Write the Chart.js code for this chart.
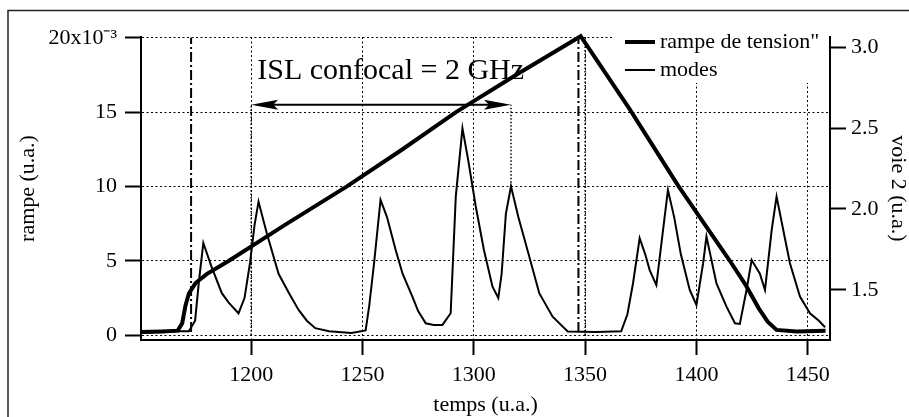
<!DOCTYPE html>
<html lang="fr">
<head>
<meta charset="UTF-8">
<title>Rampe de tension et modes</title>
<script src="https://cdn.jsdelivr.net/npm/chart.js"></script>
<style>
  html, body { margin: 0; padding: 0; background: #fff; }
  canvas { display: block; }
</style>
</head>
<body>
<canvas id="chart" width="909" height="417"></canvas>
<script>
// rampe de tension (x10^-3 u.a.) en fonction du temps
const rampT = [1150.5, 1160, 1167, 1169, 1170.5, 1172, 1175, 1180, 1190, 1215, 1243, 1268, 1292,
               1320, 1348, 1370, 1392, 1415, 1422, 1428, 1432, 1436, 1445, 1458];
const rampV = [0.2, 0.25, 0.3, 0.8, 2.0, 2.8, 3.5, 4.1, 5.0, 7.4, 10.0, 12.5, 15.0,
               17.6, 20.1, 15.2, 10.0, 5.0, 3.4, 1.8, 0.9, 0.35, 0.25, 0.3];

// voie 2 : modes de la cavité
const modesT = [1152, 1160, 1166, 1172, 1174.8, 1176.5, 1178.5, 1182, 1186.8, 1190, 1194.3, 1197, 1199.5,
                1201.5, 1203.3, 1207, 1212.3, 1217, 1221.3, 1225, 1228.8, 1235, 1245, 1251.4, 1253,
                1255.2, 1258.1, 1261, 1264.9, 1268, 1272.4, 1275, 1278.4, 1282, 1285.9, 1289.6, 1291.9,
                1294.9, 1297.5, 1300.9, 1304.5, 1308.4, 1311, 1312.5, 1314.4, 1316.7, 1320, 1324.9,
                1329.4, 1335.4, 1342.2, 1355, 1366.2, 1369, 1371.5, 1374.5, 1377, 1379, 1382, 1385,
                1387.2, 1390, 1393, 1397, 1400, 1403, 1404.5, 1409, 1413.5, 1417.3, 1419.5, 1422.5,
                1424.8, 1428.5, 1430.8, 1433.8, 1436, 1439, 1442, 1446.5, 1451, 1455, 1457.8];
const modesV = [1.235, 1.24, 1.245, 1.245, 1.31, 1.55, 1.79, 1.65, 1.48, 1.42, 1.356, 1.45, 1.67,
                1.9, 2.045, 1.85, 1.6, 1.48, 1.377, 1.31, 1.264, 1.245, 1.235, 1.25, 1.4,
                1.665, 2.056, 1.95, 1.747, 1.6, 1.459, 1.37, 1.294, 1.284, 1.284, 1.356, 2.076,
                2.498, 2.3, 2.014, 1.75, 1.52, 1.45, 1.6, 1.97, 2.14, 1.95, 1.706,
                1.48, 1.335, 1.243, 1.24, 1.245, 1.35, 1.54, 1.82, 1.72, 1.623, 1.53, 1.87,
                2.117, 1.95, 1.72, 1.5, 1.407, 1.665, 1.83, 1.54, 1.397, 1.294, 1.29, 1.5,
                1.685, 1.6, 1.5, 1.87, 2.076, 1.87, 1.665, 1.459, 1.356, 1.31, 1.27];

const xTicks = [1200, 1250, 1300, 1350, 1400, 1450];
const rampTicks = [0, 5, 10, 15, 20];
const voieTicks = [1.5, 2.0, 2.5, 3.0];

// repères verticaux (tirets-points) et intervalle spectral libre
const markerT = [1173, 1347];
const islT = [1200, 1316.7];
const islLevel = 15.5;   // hauteur de la flèche (échelle rampe)
const islPeak = 2.14;    // sommet du mode à droite (échelle voie 2)
const islText = 'ISL confocal = 2 GHz';

const serif = '"Liberation Serif", "Times New Roman", serif';
Chart.defaults.font.family = serif;
Chart.defaults.font.size = 22;
Chart.defaults.color = '#000';

const zip = (xs, ys) => xs.map((x, i) => ({x: x, y: ys[i]}));

const annotations = {
  id: 'annotations',
  beforeDatasetsDraw(chart) {
    const {ctx, chartArea: a, scales: {x, y, y2}} = chart;
    ctx.save();
    ctx.strokeStyle = '#000';
    ctx.fillStyle = '#000';

    // légende (fond blanc qui masque la grille)
    const left = a.right - 218;
    ctx.fillStyle = '#fff';
    ctx.fillRect(left, a.top - 2, a.right - left - 1, 48);
    ctx.fillStyle = '#000';
    ctx.font = '22px ' + serif;
    ctx.textAlign = 'left';
    ctx.textBaseline = 'middle';
    chart.data.datasets.forEach((ds, i) => {
      const yy = a.top + 5 + i * 28;
      ctx.lineWidth = ds.borderWidth;
      ctx.beginPath();
      ctx.moveTo(left + 13, yy);
      ctx.lineTo(left + 43, yy);
      ctx.stroke();
      ctx.fillText(ds.label, left + 48, yy);
    });

    // lignes tirets-points
    ctx.lineWidth = 2;
    ctx.setLineDash([10, 3, 2, 3]);
    markerT.forEach(t => {
      ctx.beginPath();
      ctx.moveTo(x.getPixelForValue(t), y.getPixelForValue(0.2));
      ctx.lineTo(x.getPixelForValue(t), y.getPixelForValue(20));
      ctx.stroke();
    });

    // pointillés serrés
    ctx.lineWidth = 1.5;
    ctx.setLineDash([1.5, 2]);
    const yArrow = y.getPixelForValue(islLevel);
    ctx.beginPath();
    ctx.moveTo(x.getPixelForValue(islT[0]), y.getPixelForValue(0));
    ctx.lineTo(x.getPixelForValue(islT[0]), yArrow);
    ctx.moveTo(x.getPixelForValue(islT[1]), y2.getPixelForValue(islPeak));
    ctx.lineTo(x.getPixelForValue(islT[1]), yArrow);
    ctx.moveTo(x.getPixelForValue(1350), y.getPixelForValue(0));
    ctx.lineTo(x.getPixelForValue(1350), y.getPixelForValue(20));
    ctx.stroke();

    // flèche double
    ctx.setLineDash([]);
    const xa = x.getPixelForValue(islT[0]), xb = x.getPixelForValue(islT[1]);
    ctx.lineWidth = 2;
    ctx.beginPath();
    ctx.moveTo(xa + 10, yArrow);
    ctx.lineTo(xb - 10, yArrow);
    ctx.stroke();
    [[xa, 1], [xb, -1]].forEach(([px, d]) => {
      ctx.beginPath();
      ctx.moveTo(px, yArrow);
      ctx.lineTo(px + d * 27, yArrow - 5);
      ctx.lineTo(px + d * 22, yArrow);
      ctx.lineTo(px + d * 27, yArrow + 5);
      ctx.closePath();
      ctx.fill();
    });

    ctx.font = '30px ' + serif;
    ctx.textAlign = 'left';
    ctx.textBaseline = 'alphabetic';
    ctx.fillText(islText, x.getPixelForValue(1202.7), y.getPixelForValue(17.2));
    ctx.restore();
  },
  afterDraw(chart) {
    const {ctx} = chart;
    ctx.save();
    // cadre extérieur
    ctx.strokeStyle = '#222';
    ctx.lineWidth = 1.5;
    ctx.beginPath();
    ctx.moveTo(8, chart.height);
    ctx.lineTo(8, 10.5);
    ctx.lineTo(chart.width, 10.5);
    ctx.stroke();
    ctx.restore();
  }
};

const dotted = {color: '#000', width: 2, dash: [2, 2.5]};

new Chart(document.getElementById('chart'), {
  type: 'line',
  data: {
    datasets: [{
      label: 'rampe de tension"',
      data: zip(rampT, rampV),
      yAxisID: 'y',
      borderColor: '#000',
      borderWidth: 4,
      pointRadius: 0,
      tension: 0,
      clip: false
    }, {
      label: 'modes',
      data: zip(modesT, modesV),
      yAxisID: 'y2',
      borderColor: '#000',
      borderWidth: 2,
      pointRadius: 0,
      tension: 0
    }]
  },
  options: {
    responsive: false,
    animation: false,
    layout: {padding: {top: 37, left: 0, right: 0, bottom: 0}},
    plugins: {legend: {display: false}, tooltip: {enabled: false}},
    scales: {
      x: {
        type: 'linear',
        position: 'bottom',
        min: 1150.5,
        max: 1460,
        afterBuildTicks: s => { s.ticks = xTicks.map(v => ({value: v})); },
        afterFit: s => { s.height = 77; },
        grid: {color: '#000', lineWidth: 1, tickLength: 15, tickWidth: 2, tickColor: '#000'},
        border: dotted,
        ticks: {padding: 7, callback: v => String(v)},
        title: {display: true, text: 'temps (u.a.)', font: {size: 22, lineHeight: 1}, padding: {bottom: 1}}
      },
      y: {
        position: 'left',
        min: -0.33,
        max: 20.05,
        afterBuildTicks: s => { s.ticks = rampTicks.map(v => ({value: v})); },
        afterFit: s => { s.width = 141; },
        grid: {color: '#000', lineWidth: 1, tickLength: 16, tickWidth: 2, tickColor: '#000'},
        border: dotted,
        ticks: {padding: 8, callback: v => v === 20 ? '20x10\u207B\u00B3' : String(v)},
        title: {display: true, text: 'rampe (u.a.)', font: {size: 22, lineHeight: 1.2}, padding: {top: 15}}
      },
      y2: {
        position: 'right',
        min: 1.191,
        max: 3.062,
        afterBuildTicks: s => { s.ticks = voieTicks.map(v => ({value: v})); },
        afterFit: s => { s.width = 79; },
        grid: {drawOnChartArea: false, tickLength: 16, tickWidth: 2, tickColor: '#000'},
        border: {color: '#000', width: 2},
        ticks: {padding: 5, callback: v => v.toFixed(1)},
        title: {display: true, text: 'voie 2 (u.a.)', font: {size: 22, lineHeight: 1}, padding: {top: 0}}
      }
    }
  },
  plugins: [annotations]
});
</script>
</body>
</html>
